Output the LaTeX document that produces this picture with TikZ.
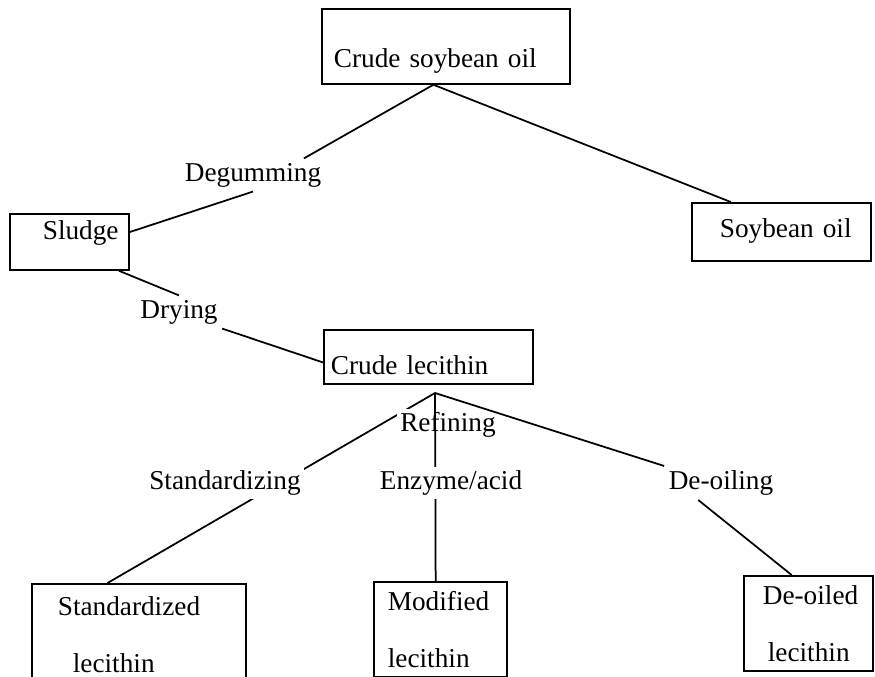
\documentclass[tikz,border=0pt]{standalone}
\usepackage{fontspec}
\setmainfont{Liberation Serif}
\usetikzlibrary{calc,positioning}

\begin{document}
\begin{tikzpicture}[x=0.4pt,y=-0.4pt,line width=0.7pt,
    font=\fontsize{10.9pt}{13pt}\selectfont,
    box/.style={draw,inner sep=0pt,anchor=north west,align=left},
    twoline/.style={box,font=\fontsize{10.9pt}{22.8pt}\selectfont},
    lbl/.style={inner sep=1.5pt},
    lblw/.style={lbl,fill=white}]
  \useasboundingbox (0,0) rectangle (875,677);
  % boxes
  \node[box,text width=99.2pt,text height=23.6pt,text depth=6.4pt] (csoil) at (321,8) {\hspace*{4.8pt}Crude soybean oil};
  \node[box,text width=71.6pt,text height=14pt,text depth=9.2pt] (soil) at (691,202) {\hspace*{11.2pt}Soybean oil};
  \node[box,text width=47.6pt,text height=10.4pt,text depth=12pt] (sludge) at (9,213) {\hspace*{13.2pt}Sludge};
  \node[box,text width=83.6pt,text height=18pt,text depth=3.6pt] (clec) at (323,329) {\hspace*{2.8pt}Crude lecithin};
  \node[twoline,text width=85.6pt,minimum height=40.8pt] (stdlec) at (31,583) {\hspace*{10.4pt}Standardized\\\hspace*{16.4pt}lecithin};
  \node[twoline,text width=53.2pt,minimum height=38pt] (modlec) at (373,581) {\hspace*{5.6pt}Modified\\\hspace*{5.6pt}lecithin};
  \node[twoline,text width=51.6pt,minimum height=38pt] (deolec) at (743,575) {\hspace*{7.6pt}De-oiled\\\hspace*{9.6pt}lecithin};
  % labels
  \node[lbl] (degum) at (253,175) {Degumming};
  \node[lbl] (dry) at (179,312) {Drying};
  \node[lbl] (deoil) at (721,483) {De-oiling};
  \coordinate (csjunc) at ($(csoil.south west)!0.45!(csoil.south east)$);
  \coordinate (refjunc) at (435,393);
  % connectors
  \draw (csjunc) -- ($(degum.north)!0.7!(degum.north east)$);
  \draw (degum.south) -- ($(sludge.north east)!0.33!(sludge.south east)$);
  \draw (csjunc) -- ($(soil.north west)!0.22!(soil.north east)$);
  \draw ($(sludge.south west)!0.91!(sludge.south east)$) -- (dry.north);
  \draw (dry.south east) -- ($(clec.north west)!0.6!(clec.south west)$);
  \draw (refjunc) -- ($(stdlec.north west)!0.355!(stdlec.north east)$);
  \node[lblw] (refine) at (448,425) {Refining};
  \draw (refjunc) -- (deoil.north west);
  \draw ($(deoil.south west)!0.3!(deoil.south east)$) -- ($(deolec.north west)!0.372!(deolec.north east)$);
  \draw (refjunc) -- ($(modlec.north west)!0.465!(modlec.north east)$);
  \node[lblw] (stdz) at (225,483) {Standardizing};
  \node[lblw] (enz) at (451,483) {Enzyme/acid};
\end{tikzpicture}
\end{document}
